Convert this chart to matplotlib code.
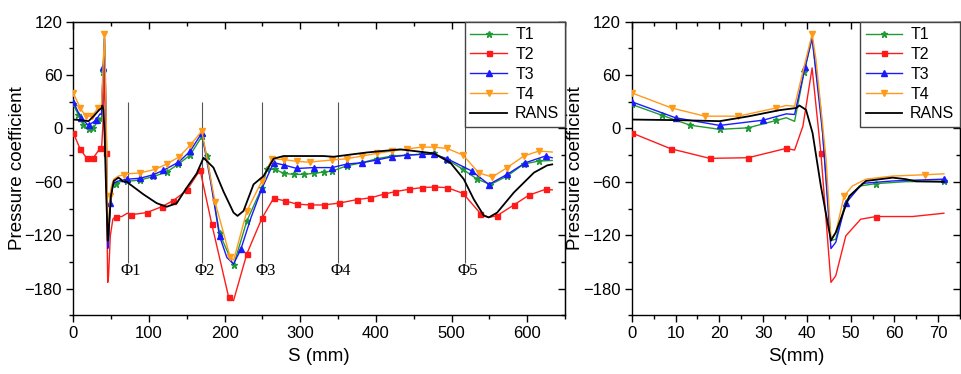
import matplotlib
matplotlib.use("Agg")
import matplotlib.pyplot as plt
from matplotlib.ticker import MultipleLocator

plt.rcParams['font.family'] = ['Liberation Sans', 'DejaVu Sans']

# ---- data: S (mm) and pressure coefficient ----
# near part (S 0-72), shared by both panels; *_m flags which points carry a marker
t1_near_s = [0, 6.8, 13.3, 20.1, 26.6, 33.0, 35.3, 37.2, 39.4, 41.2, 43.2, 45.5, 46.6, 48.9, 52.0, 55.8, 62.6, 71.3]
t1_near_v = [27, 15, 3.7, -1, 0.7, 9, 12, 8, 64, 101.7, 21, -126, -124.5, -81.5, -64.7, -62, -59.8, -59.4]
t1_near_m = [1, 1, 1, 1, 1, 1, 0, 0, 1, 0, 0, 0, 0, 0, 0, 1, 0, 1]

t2_near_s = [0, 8.9, 17.8, 26.6, 35.3, 37.2, 39.1, 41.2, 43.2, 45.5, 46.6, 48.9, 52.3, 55.8, 64.1, 71.3]
t2_near_v = [-5, -22.8, -33.6, -32.9, -22.4, -24.3, 2.6, 68, -27.3, -173, -165.6, -120.7, -102, -99, -99, -95.3]
t2_near_m = [1, 1, 1, 1, 1, 0, 0, 0, 1, 0, 0, 0, 0, 1, 0, 0]

t3_near_s = [0, 10.0, 20.1, 30.0, 35.3, 37.2, 39.6, 41.2, 43.6, 45.5, 46.6, 48.9, 52.7, 59.6, 71.3]
t3_near_v = [30, 12, 3.4, 9.3, 16.4, 15.7, 68.8, 101.7, -5, -135, -128, -84, -61.7, -59, -57]
t3_near_m = [1, 1, 1, 1, 0, 0, 1, 0, 0, 0, 0, 1, 0, 0, 1]

t4_near_s = [0, 9.1, 16.7, 24.3, 33.0, 35.3, 37.2, 39.4, 41.2, 42.1, 44.4, 45.5, 46.6, 48.5, 50.4, 53.5, 59.6, 67.1, 71.3]
t4_near_v = [40, 23, 13.8, 13.8, 23, 25.8, 25, 70, 106, 77, -35, -124, -117, -76, -64.7, -57, -53.5, -52, -51]
t4_near_m = [1, 1, 1, 1, 1, 0, 0, 0, 1, 0, 0, 0, 0, 1, 0, 0, 0, 1, 0]

rans_near_s = [0, 11.0, 20.1, 26.9, 33.8, 37.6, 38.3, 39.8, 41.3, 43.2, 45.5, 46.6, 49.7, 53.5, 59.6, 62.6, 64.9, 71.3]
rans_near_v = [10, 9.3, 8.2, 13.8, 20.6, 23, 25.8, 21, -5, -64.7, -126, -117, -76, -59, -55.3, -57, -59.4, -60]

# far part (S > 72), left panel only
t1_far_s = [88.2, 105.9, 123.5, 139.0, 154.4, 169.9, 176.5, 193.3, 211.8, 229.4, 249.3, 256.0, 267.0, 278.0, 291.3,
            304.5, 317.7, 330.9, 341.9, 361.7, 381.6, 401.4, 421.3, 441.2, 461.0, 476.5, 494.1, 515.3, 533.8, 551.5,
            573.6, 595.6, 615.5, 633.1]
t1_far_v = [-58, -54, -49, -40, -30, -9, -31, -118, -154, -104, -66.5, -46, -46, -50.5, -51.6,
            -51.6, -50.5, -49, -48, -42, -38.5, -34, -31, -30, -29, -28, -35, -46, -57, -63,
            -53.5, -40, -36.6, -36]
t1_far_m = [1] * 33 + [0]

t2_far_s = [75.9, 97.0, 116.9, 132.3, 150.0, 167.6, 183.1, 205.2, 211.8, 229.4, 249.3, 264.8, 280.2, 295.7, 313.3,
            330.9, 350.7, 374.9, 392.6, 410.3, 425.7, 443.4, 461.0, 476.5, 494.1, 515.3, 538.3, 549.3, 560.3, 582.4,
            602.3, 624.3, 633.1]
t2_far_v = [-97, -94.6, -88, -81, -69.5, -46.7, -107.7, -189, -193.6, -141, -101, -78.5, -81.5, -85, -86,
            -86, -84, -80, -78, -74, -71, -68.4, -66.5, -65.8, -66.5, -73, -95.7, -100, -98, -86,
            -75, -68.4, -69]
t2_far_m = [1, 1, 1, 1, 1, 1, 1, 1, 0, 1, 1, 1, 1, 1, 1,
            1, 1, 1, 1, 1, 1, 1, 1, 1, 1, 1, 1, 0, 1, 1,
            1, 1, 0]

t3_far_s = [88.2, 105.9, 119.1, 139.0, 154.4, 169.9, 182.0, 193.3, 203.0, 211.8, 221.5, 235.0, 249.3, 264.8, 278.0,
            295.7, 317.7, 341.9, 361.7, 381.6, 401.4, 421.3, 441.2, 461.0, 476.5, 494.1, 527.2, 549.3, 573.6, 597.8,
            624.3, 633.1]
t3_far_v = [-56, -52, -47, -38, -25.7, -5, -62, -121, -145, -152.5, -135.7, -100, -67.7, -38.5, -41,
            -45, -44, -44, -40, -38.5, -35.5, -31.8, -30, -29, -29, -34, -48, -63, -51.6, -38.5,
            -31, -33]
t3_far_m = [1, 1, 1, 1, 1, 1, 0, 1, 0, 0, 1, 0, 1, 1, 1,
            1, 1, 1, 1, 1, 1, 1, 1, 1, 1, 1, 1, 1, 1, 1,
            1, 0]

t4_far_s = [88.2, 108.1, 123.5, 139.8, 154.4, 169.9, 187.5, 207.4, 212.0, 229.4, 249.3, 262.6, 278.0, 295.7, 313.3,
            322.1, 341.9, 361.7, 381.6, 401.4, 421.3, 441.2, 461.0, 476.5, 494.1, 515.3, 536.1, 553.7, 573.6, 595.6,
            615.5, 633.1]
t4_far_v = [-50, -46, -40, -32, -19, -3, -83, -145, -148, -93, -59, -34, -35, -37, -38,
            -37, -35.5, -34, -31, -28, -25.4, -23, -21, -21, -22.4, -30, -50, -54.6, -44, -31,
            -25.4, -26.5]
t4_far_m = [1, 1, 1, 1, 1, 1, 1, 1, 0, 1, 1, 1, 1, 1, 1,
            0, 1, 1, 1, 1, 1, 1, 1, 1, 1, 1, 1, 1, 1, 1,
            1, 0]

rans_far_s = [75.0, 92.6, 110.3, 123.5, 136.7, 150.0, 163.2, 172.1, 185.3, 198.6, 211.8, 217.1, 225.0, 238.3, 251.5,
              264.8, 278.0, 300.0, 330.9, 344.1, 388.2, 432.3, 476.5, 498.5, 516.2, 529.4, 542.7, 549.3, 560.3, 582.4,
              608.9, 626.5, 633.1]
rans_far_v = [-62.8, -74, -84, -88, -84, -66.5, -50.5, -33, -44, -71, -94.6, -98.3, -92.7, -62.8, -53.5,
              -34, -31, -31, -31, -31.8, -27, -23.5, -28, -38.5, -57, -79.6, -98, -100, -94.6, -72,
              -49.7, -41.5, -40.4]

# section lines
phi_s = [72, 170, 250, 350, 518]
phi_labels = ['Φ1', 'Φ2', 'Φ3', 'Φ4', 'Φ5']

names = ['T1', 'T2', 'T3', 'T4']
colors = ['#1f9a35', '#ff1a1a', '#1a1aff', '#ff9a1a']
markers = ['*', 's', '^', 'v']
msizes = [4.5, 3.6, 4.5, 5]

near = [(t1_near_s, t1_near_v, t1_near_m), (t2_near_s, t2_near_v, t2_near_m),
        (t3_near_s, t3_near_v, t3_near_m), (t4_near_s, t4_near_v, t4_near_m)]
far = [(t1_far_s, t1_far_v, t1_far_m), (t2_far_s, t2_far_v, t2_far_m),
       (t3_far_s, t3_far_v, t3_far_m), (t4_far_s, t4_far_v, t4_far_m)]

fig = plt.figure(figsize=(9.62, 3.74), dpi=100)
ax1 = fig.add_axes([0.0762, 0.157, 0.5111, 0.785])
ax2 = fig.add_axes([0.6567, 0.157, 0.3413, 0.785])


def draw(ax, series, rans_s, rans_v):
    for (s, v, m), name, c, mk, ms in zip(series, names, colors, markers, msizes):
        ax.plot(s, v, color=c, lw=1.0, marker=mk, ms=ms, markevery=[bool(x) for x in m],
                mec=c, mfc=c, label=name, zorder=3)
    ax.plot(rans_s, rans_v, color='black', lw=1.3, label='RANS', zorder=4)
    leg = ax.legend(loc='upper right', bbox_to_anchor=(1, 1), borderaxespad=0, fancybox=False,
                    edgecolor='#444444', framealpha=1, fontsize=11.5, handlelength=2.3,
                    labelspacing=0.3, handletextpad=0.5, borderpad=0.35)
    leg.get_frame().set_linewidth(1.0)
    leg.set_zorder(5)


def style(ax, xmax, xmaj, xmin, xlabel):
    ax.set_xlim(0, xmax)
    ax.set_ylim(-210, 120)
    ax.set_yticks([-180, -120, -60, 0, 60, 120])
    ax.xaxis.set_major_locator(MultipleLocator(xmaj))
    ax.xaxis.set_minor_locator(MultipleLocator(xmin))
    ax.yaxis.set_minor_locator(MultipleLocator(30))
    ax.tick_params(which='both', direction='out', labelsize=12, width=1.0, pad=3)
    ax.tick_params(which='major', length=5)
    ax.tick_params(which='minor', length=3)
    for sp in ax.spines.values():
        sp.set_linewidth(1.0)
    ax.set_ylabel('Pressure coefficient', fontsize=13.5, labelpad=-1)
    ax.set_xlabel(xlabel, fontsize=13.5, labelpad=5)
    top = ax.secondary_xaxis('top')
    top.xaxis.set_major_locator(MultipleLocator(xmaj))
    top.xaxis.set_minor_locator(MultipleLocator(xmin))
    top.tick_params(which='both', direction='in', labeltop=False, width=1.0)
    top.tick_params(which='major', length=5)
    top.tick_params(which='minor', length=3)
    right = ax.secondary_yaxis('right')
    right.set_yticks([-180, -120, -60, 0, 60, 120])
    right.yaxis.set_minor_locator(MultipleLocator(30))
    right.tick_params(which='both', direction='in', labelright=False, width=1.0)
    right.tick_params(which='major', length=5)
    right.tick_params(which='minor', length=3)


# left panel
draw(ax1, [(ns + fs, nv + fv, nm + fm) for (ns, nv, nm), (fs, fv, fm) in zip(near, far)],
     rans_near_s + rans_far_s, rans_near_v + rans_far_v)
ax1.vlines(phi_s, -151, 30, color='#555555', lw=0.8, zorder=2)
for xs, lab in zip(phi_s, phi_labels):
    ax1.text(xs + 4, -160, lab, ha='center', va='center', fontsize=12,
             family=['Liberation Serif', 'DejaVu Serif'])
style(ax1, 650, 100, 50, 'S (mm)')

# right panel
draw(ax2, near, rans_near_s, rans_near_v)
style(ax2, 75, 10, 5, 'S(mm)')

fig.savefig('out.png', dpi=100)
